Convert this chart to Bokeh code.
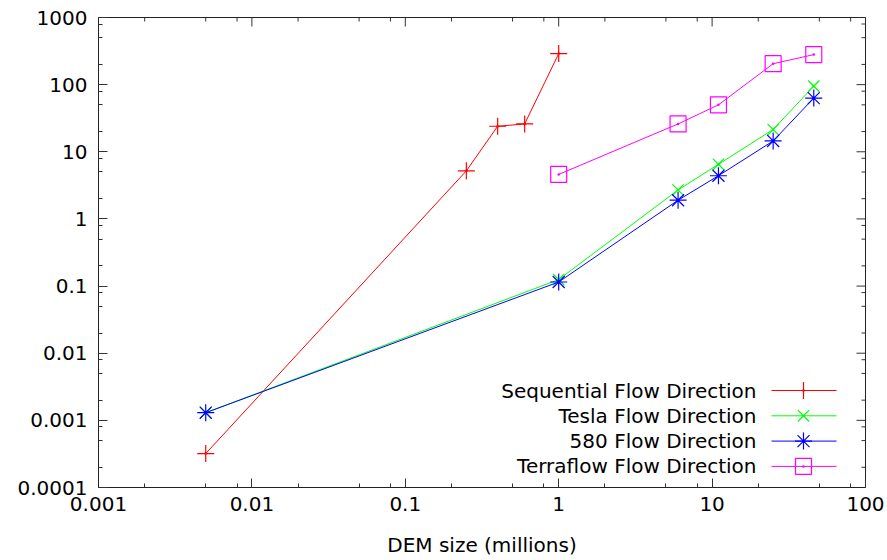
from bokeh.plotting import figure
from bokeh.models import (Range1d, LinearScale, FixedTicker,
                          CustomJSTickFormatter)
from bokeh.core.properties import value
from bokeh.embed import file_html
from bokeh.resources import INLINE

# ---------------- data ----------------
seq_x = [0.005, 0.25, 0.4, 0.6, 1.0]
seq_y = [0.00032, 5.2, 24, 26, 290]

tesla_x = [0.005, 1.0, 6.0, 11.0, 25.0, 46.0]
tesla_y = [0.0013, 0.125, 2.7, 6.5, 21.5, 95]

g580_x = [0.005, 1.0, 6.0, 11.0, 25.0, 46.0]
g580_y = [0.0013, 0.115, 1.9, 4.4, 14.5, 63]

terra_x = [1.0, 6.0, 11.0, 25.0, 46.0]
terra_y = [4.6, 26, 50, 205, 280]

x_ticks = [0.001, 0.01, 0.1, 1, 10, 100]
x_tick_labels = ["0.001", "0.01", "0.1", "1", "10", "100"]
y_ticks = [0.0001, 0.001, 0.01, 0.1, 1, 10, 100, 1000]
y_tick_labels = ["0.0001", "0.001", "0.01", "0.1", "1", "10", "100", "1000"]
minor_mantissas = [2, 5, 8]

series_names = ["Sequential Flow Direction", "Tesla Flow Direction",
                "580 Flow Direction", "Terraflow Flow Direction"]
series_colors = ["#ff0000", "#00ff00", "#0000ff", "#ff00ff"]
series_markers = ["cross", "x", "asterisk", "square"]

x_label = "DEM size (millions)"

# ---------------- layout constants ----------------
W, H = 887, 560
L, R, T, B = 98, 865, 17, 487
FONT = "DejaVu Sans"
FS = "20px"
FRAME = "#222222"
TICKC = "#333333"
MAJ, MIN = 9, 4

p = figure(width=W, height=H, x_axis_type="log", y_axis_type="log",
           x_range=Range1d(0.001, 100), y_range=Range1d(0.0001, 1000),
           min_border_left=L, min_border_right=W - R, min_border_top=T,
           min_border_bottom=H - B, output_backend="svg",
           toolbar_location=None)
p.xgrid.visible = False
p.ygrid.visible = False
p.outline_line_color = FRAME
p.outline_line_width = 1
p.background_fill_color = "white"
p.border_fill_color = "white"

# screen-pixel ranges for layout elements (legend, mirror ticks)
p.extra_x_ranges = {"px": Range1d(L, R)}
p.extra_y_ranges = {"py": Range1d(B, T)}
p.extra_x_scales = {"px": LinearScale()}
p.extra_y_scales = {"py": LinearScale()}


def minors(ticks):
    out = []
    for t in ticks[:-1]:
        for m in minor_mantissas:
            out.append(t * m)
    return out


def fmt(vals, labs):
    return CustomJSTickFormatter(args=dict(vals=vals, labs=labs), code="""
        let b = 0;
        for (let i = 0; i < vals.length; i++) {
            if (Math.abs(Math.log10(vals[i]) - Math.log10(tick)) <
                Math.abs(Math.log10(vals[b]) - Math.log10(tick))) { b = i; }
        }
        return labs[b];
    """)


def style(ax, ticks, labs):
    ax.ticker = FixedTicker(ticks=ticks, minor_ticks=minors(ticks))
    ax.formatter = fmt(ticks, labs)
    ax.axis_line_color = FRAME
    ax.axis_line_width = 1
    ax.major_tick_in = MAJ
    ax.major_tick_out = 0
    ax.minor_tick_in = MIN
    ax.minor_tick_out = 0
    ax.major_tick_line_color = TICKC
    ax.minor_tick_line_color = TICKC
    ax.major_label_text_font = FONT
    ax.major_label_text_font_size = FS
    ax.major_label_text_color = "black"


xa = p.below[0]
style(xa, x_ticks, x_tick_labels)
xa.major_label_standoff = 9
xa.axis_label = x_label
xa.axis_label_text_font = FONT
xa.axis_label_text_font_size = FS
xa.axis_label_text_font_style = "normal"
xa.axis_label_text_color = "black"
xa.axis_label_standoff = 19

ya = p.left[0]
style(ya, y_ticks, y_tick_labels)
ya.major_label_standoff = 11

# mirrored ticks on top and right edges
xmin = minors(x_ticks)
ymin = minors(y_ticks)
p.segment(x0=x_ticks, x1=x_ticks, y0=[T] * len(x_ticks),
          y1=[T + MAJ] * len(x_ticks), y_range_name="py",
          line_color=TICKC, line_width=1)
p.segment(x0=xmin, x1=xmin, y0=[T] * len(xmin), y1=[T + MIN] * len(xmin),
          y_range_name="py", line_color=TICKC, line_width=1)
p.segment(x0=[R] * len(y_ticks), x1=[R - MAJ] * len(y_ticks), y0=y_ticks,
          y1=y_ticks, x_range_name="px", line_color=TICKC, line_width=1)
p.segment(x0=[R] * len(ymin), x1=[R - MIN] * len(ymin), y0=ymin, y1=ymin,
          x_range_name="px", line_color=TICKC, line_width=1)

# ---------------- series ----------------
all_x = [seq_x, tesla_x, g580_x, terra_x]
all_y = [seq_y, tesla_y, g580_y, terra_y]
sizes = [17, 16, 17, 16]
for xs, ys, c, m, s in zip(all_x, all_y, series_colors, series_markers, sizes):
    p.line(xs, ys, line_color=c, line_width=1)
    p.scatter(xs, ys, marker=m, size=s, line_color=c, fill_color=None,
              line_width=1.2)
    p.scatter(xs, ys, marker="circle", size=2.5, line_color=c, fill_color=c,
              line_width=0)

# ---------------- legend (text left, sample right, as in gnuplot) --------
leg_text_right = 756
leg_line = (771, 836)
leg_mark = 803
leg_y0, leg_dy = 390, 25.3
for i, (name, c, m, s) in enumerate(zip(series_names, series_colors,
                                         series_markers, sizes)):
    yy = leg_y0 + i * leg_dy
    p.text(x=[leg_text_right], y=[yy], text=[name], text_align="right",
           text_baseline="middle", text_font=value(FONT),
           text_font_size=FS, text_color="black",
           x_range_name="px", y_range_name="py")
    p.line(x=list(leg_line), y=[yy, yy], line_color=c, line_width=1,
           x_range_name="px", y_range_name="py")
    p.scatter(x=[leg_mark], y=[yy], marker=m, size=s, line_color=c,
              fill_color=None, line_width=1.2,
              x_range_name="px", y_range_name="py")
    p.scatter(x=[leg_mark], y=[yy], marker="circle", size=2.5, line_color=c,
              fill_color=c, line_width=0,
              x_range_name="px", y_range_name="py")

open("out.html", "w").write(file_html(p, INLINE))
